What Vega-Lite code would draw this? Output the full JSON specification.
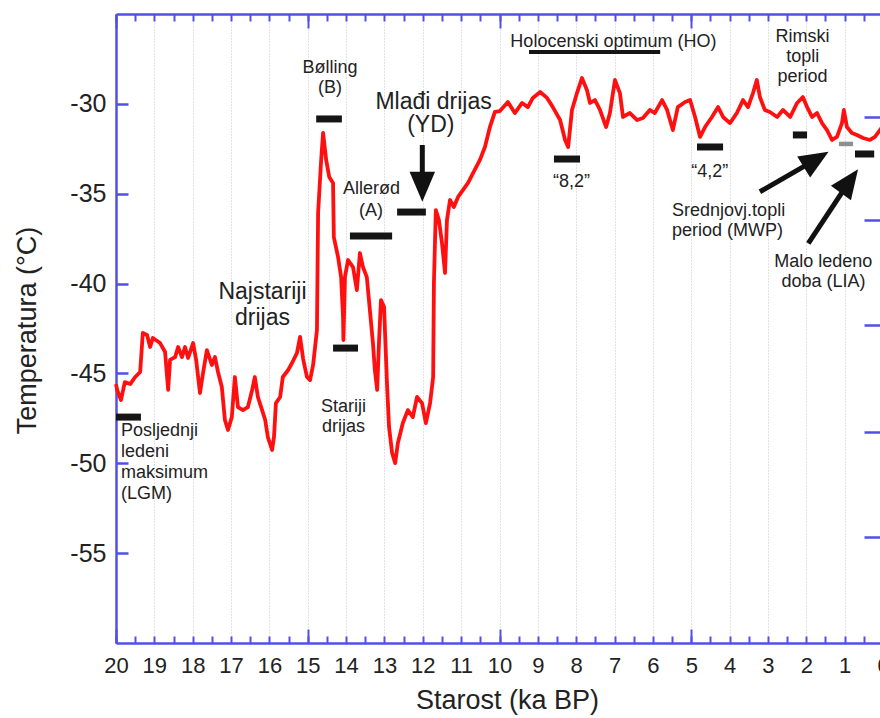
{
  "$schema": "https://vega.github.io/schema/vega-lite/v6.json",
  "autosize": {"type": "none"},
  "padding": {"left": 116, "top": 14, "right": 0, "bottom": 75},
  "width": 764,
  "height": 629,
  "background": "white",
  "config": {
    "view": {"stroke": null},
    "font": "Liberation Sans",
    "axis": {"labelFont": "Liberation Sans", "titleFont": "Liberation Sans", "labelColor": "#222", "titleColor": "#222", "titleFontWeight": "normal"}
  },
  "datasets": {
    "serie": [
      {"starost": 20.0, "temp": -45.6},
      {"starost": 19.97, "temp": -45.92},
      {"starost": 19.87, "temp": -46.48},
      {"starost": 19.77, "temp": -45.48},
      {"starost": 19.63, "temp": -45.59},
      {"starost": 19.5, "temp": -45.2},
      {"starost": 19.37, "temp": -44.92},
      {"starost": 19.3, "temp": -42.75},
      {"starost": 19.19, "temp": -42.86},
      {"starost": 19.11, "temp": -43.53},
      {"starost": 19.04, "temp": -43.03},
      {"starost": 18.85, "temp": -43.31},
      {"starost": 18.72, "temp": -43.81},
      {"starost": 18.64, "temp": -45.92},
      {"starost": 18.59, "temp": -44.25},
      {"starost": 18.46, "temp": -44.09},
      {"starost": 18.38, "temp": -43.53},
      {"starost": 18.28, "temp": -44.09},
      {"starost": 18.2, "temp": -43.53},
      {"starost": 18.12, "temp": -44.14},
      {"starost": 17.99, "temp": -43.31},
      {"starost": 17.91, "temp": -44.25},
      {"starost": 17.81, "temp": -46.09},
      {"starost": 17.73, "temp": -44.98},
      {"starost": 17.63, "temp": -43.7},
      {"starost": 17.5, "temp": -44.53},
      {"starost": 17.42, "temp": -44.09},
      {"starost": 17.34, "temp": -44.92},
      {"starost": 17.24, "temp": -45.76},
      {"starost": 17.16, "temp": -47.59},
      {"starost": 17.08, "temp": -48.15},
      {"starost": 16.98, "temp": -47.43},
      {"starost": 16.9, "temp": -45.2},
      {"starost": 16.82, "temp": -46.87},
      {"starost": 16.69, "temp": -47.04},
      {"starost": 16.56, "temp": -46.87},
      {"starost": 16.45, "temp": -45.92},
      {"starost": 16.38, "temp": -45.2},
      {"starost": 16.3, "temp": -46.31},
      {"starost": 16.19, "temp": -47.04},
      {"starost": 16.11, "temp": -47.59},
      {"starost": 16.04, "temp": -48.54},
      {"starost": 15.93, "temp": -49.26},
      {"starost": 15.88, "temp": -48.54},
      {"starost": 15.83, "temp": -46.65},
      {"starost": 15.72, "temp": -46.31},
      {"starost": 15.65, "temp": -45.2},
      {"starost": 15.51, "temp": -44.81},
      {"starost": 15.41, "temp": -44.42},
      {"starost": 15.28, "temp": -43.86},
      {"starost": 15.2, "temp": -42.97},
      {"starost": 15.12, "temp": -44.2},
      {"starost": 15.02, "temp": -45.2},
      {"starost": 14.94, "temp": -45.37},
      {"starost": 14.86, "temp": -44.53},
      {"starost": 14.76, "temp": -42.58},
      {"starost": 14.73, "temp": -36.07},
      {"starost": 14.65, "temp": -33.12},
      {"starost": 14.6, "temp": -31.62},
      {"starost": 14.52, "temp": -33.12},
      {"starost": 14.44, "temp": -34.07},
      {"starost": 14.34, "temp": -34.4},
      {"starost": 14.32, "temp": -37.41},
      {"starost": 14.21, "temp": -38.52},
      {"starost": 14.13, "temp": -39.64},
      {"starost": 14.08, "temp": -41.86},
      {"starost": 14.07, "temp": -43.14},
      {"starost": 14.03, "temp": -39.64},
      {"starost": 13.95, "temp": -38.69},
      {"starost": 13.82, "temp": -39.08},
      {"starost": 13.72, "temp": -40.36},
      {"starost": 13.64, "temp": -38.3},
      {"starost": 13.56, "temp": -39.08},
      {"starost": 13.46, "temp": -39.64},
      {"starost": 13.38, "temp": -41.47},
      {"starost": 13.3, "temp": -43.31},
      {"starost": 13.25, "temp": -44.81},
      {"starost": 13.19, "temp": -45.92},
      {"starost": 13.14, "temp": -43.14},
      {"starost": 13.09, "temp": -40.92},
      {"starost": 13.01, "temp": -41.31},
      {"starost": 12.93, "temp": -45.76},
      {"starost": 12.88, "temp": -47.98},
      {"starost": 12.8, "temp": -49.43},
      {"starost": 12.72, "temp": -49.99},
      {"starost": 12.65, "temp": -48.87},
      {"starost": 12.52, "temp": -47.76},
      {"starost": 12.39, "temp": -47.04},
      {"starost": 12.26, "temp": -47.43},
      {"starost": 12.15, "temp": -46.31},
      {"starost": 12.02, "temp": -46.65},
      {"starost": 11.92, "temp": -47.76},
      {"starost": 11.81, "temp": -46.65},
      {"starost": 11.73, "temp": -45.2},
      {"starost": 11.71, "temp": -39.97},
      {"starost": 11.66, "temp": -35.91},
      {"starost": 11.58, "temp": -36.46},
      {"starost": 11.5, "temp": -37.74},
      {"starost": 11.42, "temp": -39.41},
      {"starost": 11.37, "temp": -36.46},
      {"starost": 11.29, "temp": -35.35},
      {"starost": 11.19, "temp": -35.74},
      {"starost": 11.08, "temp": -35.18},
      {"starost": 10.95, "temp": -34.79},
      {"starost": 10.82, "temp": -34.4},
      {"starost": 10.69, "temp": -33.85},
      {"starost": 10.51, "temp": -33.12},
      {"starost": 10.38, "temp": -32.4},
      {"starost": 10.25, "temp": -31.29},
      {"starost": 10.12, "temp": -30.45},
      {"starost": 9.99, "temp": -30.4},
      {"starost": 9.78, "temp": -29.9},
      {"starost": 9.6, "temp": -30.51},
      {"starost": 9.41, "temp": -29.95},
      {"starost": 9.26, "temp": -30.18},
      {"starost": 9.13, "temp": -29.67},
      {"starost": 8.94, "temp": -29.34},
      {"starost": 8.76, "temp": -29.67},
      {"starost": 8.61, "temp": -30.18},
      {"starost": 8.42, "temp": -30.9},
      {"starost": 8.29, "temp": -32.01},
      {"starost": 8.21, "temp": -32.4},
      {"starost": 8.11, "temp": -30.34},
      {"starost": 7.98, "temp": -29.4},
      {"starost": 7.85, "temp": -28.56},
      {"starost": 7.72, "temp": -29.23},
      {"starost": 7.64, "temp": -29.95},
      {"starost": 7.51, "temp": -29.79},
      {"starost": 7.38, "temp": -30.34},
      {"starost": 7.22, "temp": -31.29},
      {"starost": 7.12, "temp": -30.51},
      {"starost": 6.99, "temp": -28.67},
      {"starost": 6.86, "temp": -29.4},
      {"starost": 6.78, "temp": -30.73},
      {"starost": 6.6, "temp": -30.51},
      {"starost": 6.41, "temp": -30.9},
      {"starost": 6.26, "temp": -30.79},
      {"starost": 6.08, "temp": -30.34},
      {"starost": 5.95, "temp": -30.51},
      {"starost": 5.76, "temp": -29.79},
      {"starost": 5.63, "temp": -30.34},
      {"starost": 5.48, "temp": -31.46},
      {"starost": 5.35, "temp": -30.18},
      {"starost": 5.16, "temp": -29.9},
      {"starost": 5.03, "temp": -29.79},
      {"starost": 4.9, "temp": -30.73},
      {"starost": 4.77, "temp": -31.84},
      {"starost": 4.64, "temp": -31.29},
      {"starost": 4.46, "temp": -30.73},
      {"starost": 4.3, "temp": -30.18},
      {"starost": 4.17, "temp": -30.73},
      {"starost": 3.99, "temp": -31.07},
      {"starost": 3.81, "temp": -30.51},
      {"starost": 3.65, "temp": -29.79},
      {"starost": 3.52, "temp": -30.18},
      {"starost": 3.39, "temp": -29.4},
      {"starost": 3.29, "temp": -28.67},
      {"starost": 3.21, "temp": -29.62},
      {"starost": 3.08, "temp": -30.34},
      {"starost": 2.95, "temp": -30.45},
      {"starost": 2.76, "temp": -30.73},
      {"starost": 2.61, "temp": -30.34},
      {"starost": 2.42, "temp": -30.73},
      {"starost": 2.24, "temp": -29.95},
      {"starost": 2.09, "temp": -29.62},
      {"starost": 1.98, "temp": -30.18},
      {"starost": 1.85, "temp": -30.73},
      {"starost": 1.72, "temp": -30.51},
      {"starost": 1.59, "temp": -31.07},
      {"starost": 1.46, "temp": -31.46},
      {"starost": 1.33, "temp": -32.01},
      {"starost": 1.2, "temp": -31.84},
      {"starost": 1.07, "temp": -31.07},
      {"starost": 1.02, "temp": -30.34},
      {"starost": 0.94, "temp": -31.29},
      {"starost": 0.81, "temp": -31.62},
      {"starost": 0.68, "temp": -31.73},
      {"starost": 0.52, "temp": -31.9},
      {"starost": 0.34, "temp": -32.01},
      {"starost": 0.21, "temp": -31.84},
      {"starost": 0.08, "temp": -31.46},
      {"starost": 0.0, "temp": -31.23}
    ],
    "razdoblja": [
      {"naziv": "LGM", "od": 20.0, "do": 19.35, "temp": -47.43},
      {"naziv": "B", "od": 14.78, "do": 14.11, "temp": -30.84},
      {"naziv": "SD", "od": 14.34, "do": 13.69, "temp": -43.59},
      {"naziv": "A", "od": 13.9, "do": 12.8, "temp": -37.35},
      {"naziv": "YD", "od": 12.67, "do": 11.92, "temp": -36.02},
      {"naziv": "HO", "od": 9.23, "do": 5.81, "temp": -27.11},
      {"naziv": "8,2", "od": 8.58, "do": 7.9, "temp": -33.07},
      {"naziv": "4,2", "od": 4.85, "do": 4.17, "temp": -32.4},
      {"naziv": "RTP", "od": 2.35, "do": 1.98, "temp": -31.73},
      {"naziv": "MWP", "od": 1.15, "do": 0.78, "temp": -32.23},
      {"naziv": "LIA", "od": 0.73, "do": 0.23, "temp": -32.79}
    ],
    "strelice": [
      {"naziv": "YD", "od_s": 12.013, "od_t": -32.29, "do_s": 12.013, "do_t": -34.61},
      {"naziv": "MWP", "od_s": 3.21, "od_t": -34.89, "do_s": 1.744, "do_t": -33.09},
      {"naziv": "LIA", "od_s": 1.948, "od_t": -37.76, "do_s": 0.874, "do_t": -34.3}
    ],
    "tekst_sredina": [
      {"tekst": "Bølling", "starost": 14.42, "temp": -27.99},
      {"tekst": "(B)", "starost": 14.42, "temp": -29.12},
      {"tekst": "Allerød", "starost": 13.34, "temp": -34.74},
      {"tekst": "(A)", "starost": 13.35, "temp": -35.96},
      {"tekst": "Stariji", "starost": 14.07, "temp": -46.87},
      {"tekst": "drijas", "starost": 14.07, "temp": -47.98},
      {"tekst": "Holocenski optimum (HO)", "starost": 7.03, "temp": -26.56},
      {"tekst": "“8,2”", "starost": 8.12, "temp": -34.35},
      {"tekst": "“4,2”", "starost": 4.52, "temp": -33.79},
      {"tekst": "Rimski", "starost": 2.1, "temp": -26.28},
      {"tekst": "topli", "starost": 2.09, "temp": -27.39},
      {"tekst": "period", "starost": 2.1, "temp": -28.51},
      {"tekst": "Malo ledeno", "starost": 1.56, "temp": -38.8},
      {"tekst": "doba (LIA)", "starost": 1.55, "temp": -39.91}
    ],
    "tekst_lijevo": [
      {"tekst": "Posljednji", "starost": 19.87, "temp": -48.2},
      {"tekst": "ledeni", "starost": 19.87, "temp": -49.37},
      {"tekst": "maksimum", "starost": 19.87, "temp": -50.54},
      {"tekst": "(LGM)", "starost": 19.87, "temp": -51.71},
      {"tekst": "Srednjovj.topli", "starost": 5.5, "temp": -35.96},
      {"tekst": "period (MWP)", "starost": 5.5, "temp": -37.08}
    ],
    "tekst_veliki": [
      {"tekst": "Najstariji", "starost": 16.18, "temp": -40.47},
      {"tekst": "drijas", "starost": 16.18, "temp": -41.92},
      {"tekst": "Mlađi drijas", "starost": 11.72, "temp": -29.9},
      {"tekst": "(YD)", "starost": 11.79, "temp": -31.2}
    ]
  },
  "resolve": {"axis": {"x": "independent", "y": "independent"}},
  "layer": [
    {
      "data": {"name": "serie"},
      "mark": {"type": "line", "color": "#ff1010", "strokeWidth": 3.8, "strokeJoin": "round"},
      "encoding": {
        "x": {"field": "starost", "type": "quantitative",
          "scale": {"domain": [20, 0], "range": [0, 767], "nice": false, "zero": false},
          "axis": {"orient": "bottom", "values": [0,1,2,3,4,5,6,7,8,9,10,11,12,13,14,15,16,17,18,19,20], "labelExpr": "'' + datum.value",
            "labelFontSize": 22, "labelPadding": 12, "labelFlush": false, "labelOverlap": false,
            "ticks": false, "tickSize": 0, "domain": true, "domainColor": "#5050e8", "domainWidth": 2.5,
            "grid": true, "gridColor": "#c4c4c4", "gridDash": [1, 2], "gridWidth": 1,
            "title": "Starost (ka BP)", "titleFontSize": 27, "titleX": 391, "titleY": 65, "titleBaseline": "alphabetic", "titleAlign": "center", "titleAnchor": null}},
        "y": {"field": "temp", "type": "quantitative",
          "scale": {"domain": [-60, -25], "nice": false, "zero": false},
          "axis": {"orient": "left", "values": [-55, -50, -45, -40, -35, -30], "labelExpr": "'' + datum.value",
            "labelFontSize": 25, "labelPadding": 10, "labelFlush": false, "labelOverlap": false,
            "ticks": false, "tickSize": 0, "domain": true, "domainColor": "#5050e8", "domainWidth": 2.5, "grid": false,
            "title": "Temperatura (°C)", "titleFontSize": 27, "titleX": -81, "titleY": 316, "titleAngle": -90, "titleBaseline": "alphabetic", "titleAlign": "center", "titleAnchor": null}}
      }
    },
    {
      "data": {"name": "razdoblja"},
      "transform": [{"filter": "datum.naziv !== 'HO' && datum.naziv !== 'MWP'"}],
      "mark": {"type": "rule", "color": "#151515", "strokeWidth": 7, "strokeCap": "butt"},
      "encoding": {
        "x": {"field": "od", "type": "quantitative",
          "axis": {"orient": "bottom", "values": [0,0.5,1,1.5,2,2.5,3,3.5,4,4.5,5,5.5,6,6.5,7,7.5,8,8.5,9,9.5,10,10.5,11,11.5,12,12.5,13,13.5,14,14.5,15,15.5,16,16.5,17,17.5,18,18.5,19,19.5,20],
            "labels": false, "ticks": true, "tickSize": -7, "tickColor": "#5050e8", "tickWidth": 2, "domain": false, "grid": false, "title": null}},
        "x2": {"field": "do"},
        "y": {"field": "temp", "type": "quantitative",
          "axis": {"orient": "left", "values": [-55, -50, -45, -40, -35, -30], "labels": false, "ticks": true, "tickSize": -12, "tickColor": "#5050e8", "tickWidth": 2.5, "domain": false, "grid": false, "title": null}}
      }
    },
    {
      "data": {"name": "razdoblja"},
      "transform": [{"filter": "datum.naziv === 'HO'"}],
      "mark": {"type": "rule", "color": "#151515", "strokeWidth": 4, "strokeCap": "butt"},
      "encoding": {
        "x": {"field": "od", "type": "quantitative",
          "axis": {"orient": "bottom", "values": [0, 5, 10, 15, 20], "labels": false, "ticks": true, "tickSize": -14, "tickColor": "#5050e8", "tickWidth": 2, "domain": false, "grid": false, "title": null}},
        "x2": {"field": "do"},
        "y": {"field": "temp", "type": "quantitative",
          "axis": {"orient": "right", "offset": 3, "values": [-30.71, -36.46, -42.31, -48.24, -54.09], "labels": false, "ticks": true, "tickSize": -19, "tickColor": "#5050e8", "tickWidth": 2.5, "domain": false, "grid": false, "title": null}}
      }
    },
    {
      "data": {"name": "razdoblja"},
      "transform": [{"filter": "datum.naziv === 'MWP'"}],
      "mark": {"type": "rule", "color": "#8f8f8f", "strokeWidth": 4.5, "strokeCap": "butt"},
      "encoding": {
        "x": {"field": "od", "type": "quantitative",
          "axis": {"orient": "top", "values": [0,0.5,1,1.5,2,2.5,3,3.5,4,4.5,5,5.5,6,6.5,7,7.5,8,8.5,9,9.5,10,10.5,11,11.5,12,12.5,13,13.5,14,14.5,15,15.5,16,16.5,17,17.5,18,18.5,19,19.5,20],
            "labels": false, "ticks": true, "tickSize": -7, "tickColor": "#5050e8", "tickWidth": 2, "domain": true, "domainColor": "#5050e8", "domainWidth": 2.5, "grid": false, "title": null}},
        "x2": {"field": "do"},
        "y": {"field": "temp", "type": "quantitative", "axis": null}
      }
    },
    {
      "data": {"name": "strelice"},
      "mark": {"type": "rule", "color": "#111111", "strokeWidth": 5, "strokeCap": "butt"},
      "encoding": {
        "x": {"field": "od_s", "type": "quantitative",
          "axis": {"orient": "top", "values": [0, 5, 10, 15, 20], "labels": false, "ticks": true, "tickSize": -14, "tickColor": "#5050e8", "tickWidth": 2, "domain": false, "grid": false, "title": null}},
        "x2": {"field": "do_s"},
        "y": {"field": "od_t", "type": "quantitative", "axis": null},
        "y2": {"field": "do_t"}
      }
    },
    {
      "data": {"name": "strelice"},
      "transform": [{"filter": "datum.naziv === 'YD'"}],
      "mark": {"type": "point", "shape": "M0,-1L0.85,1L-0.85,1Z", "size": 900, "filled": true, "opacity": 1, "color": "#111111", "angle": 180},
      "encoding": {
        "x": {"field": "do_s", "type": "quantitative", "axis": null},
        "y": {"field": "do_t", "type": "quantitative", "axis": null}
      }
    },
    {
      "data": {"name": "strelice"},
      "transform": [{"filter": "datum.naziv === 'MWP'"}],
      "mark": {"type": "point", "shape": "M0,-1L0.85,1L-0.85,1Z", "size": 850, "filled": true, "opacity": 1, "color": "#111111", "angle": 58.5},
      "encoding": {
        "x": {"field": "do_s", "type": "quantitative", "axis": null},
        "y": {"field": "do_t", "type": "quantitative", "axis": null}
      }
    },
    {
      "data": {"name": "strelice"},
      "transform": [{"filter": "datum.naziv === 'LIA'"}],
      "mark": {"type": "point", "shape": "M0,-1L0.85,1L-0.85,1Z", "size": 850, "filled": true, "opacity": 1, "color": "#111111", "angle": 36},
      "encoding": {
        "x": {"field": "do_s", "type": "quantitative", "axis": null},
        "y": {"field": "do_t", "type": "quantitative", "axis": null}
      }
    },
    {
      "data": {"name": "tekst_sredina"},
      "mark": {"type": "text", "font": "Liberation Sans", "fontSize": 18, "color": "#222222", "align": "center", "baseline": "middle"},
      "encoding": {
        "x": {"field": "starost", "type": "quantitative", "axis": null},
        "y": {"field": "temp", "type": "quantitative", "axis": null},
        "text": {"field": "tekst"}
      }
    },
    {
      "data": {"name": "tekst_lijevo"},
      "mark": {"type": "text", "font": "Liberation Sans", "fontSize": 18, "color": "#222222", "align": "left", "baseline": "middle"},
      "encoding": {
        "x": {"field": "starost", "type": "quantitative", "axis": null},
        "y": {"field": "temp", "type": "quantitative", "axis": null},
        "text": {"field": "tekst"}
      }
    },
    {
      "data": {"name": "tekst_veliki"},
      "mark": {"type": "text", "font": "Liberation Sans", "fontSize": 23, "color": "#222222", "align": "center", "baseline": "middle"},
      "encoding": {
        "x": {"field": "starost", "type": "quantitative", "axis": null},
        "y": {"field": "temp", "type": "quantitative", "axis": null},
        "text": {"field": "tekst"}
      }
    }
  ]
}
